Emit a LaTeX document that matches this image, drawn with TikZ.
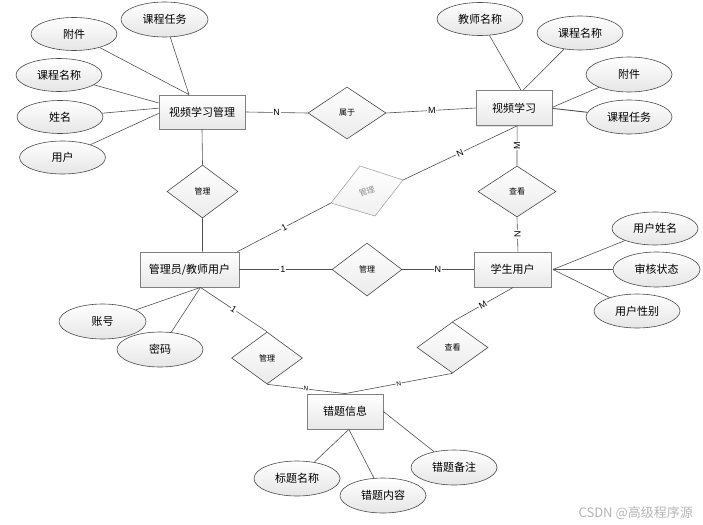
\documentclass[tikz,border=0pt]{standalone}
\usepackage{fontspec}
\setmainfont{Liberation Sans}
\newfontfamily\cjk{Noto Sans CJK SC}
\usetikzlibrary{shapes.geometric,calc,shadows}
\definecolor{linec}{HTML}{505050}
\definecolor{boxc}{HTML}{808080}
\definecolor{ellc}{HTML}{4A4A4A}
\definecolor{wmc}{HTML}{B4B4B4}
\begin{document}
\begin{tikzpicture}[x=1pt,y=-1pt,
  conn/.style={draw=linec, line width=0.6pt},
  ent/.style={rectangle, draw=boxc, line width=0.8pt, top color=white, bottom color=black!9,
    inner sep=0pt, font=\cjk\fontsize{11}{11}\selectfont,
    drop shadow={shadow xshift=1.2pt, shadow yshift=-1.2pt, opacity=0.25}},
  attr/.style={ellipse, draw=ellc, line width=0.6pt, top color=white, bottom color=black!10,
    minimum width=86pt, minimum height=33pt, inner sep=0pt, font=\cjk\fontsize{11}{11}\selectfont},
  rel/.style={diamond, draw=ellc, line width=0.6pt, top color=white, bottom color=black!8,
    inner sep=0pt, font=\cjk\fontsize{8}{8}\selectfont},
  card/.style={fill=white, inner sep=0.8pt, font=\fontsize{9}{9}\selectfont, text=black},
  cardsm/.style={fill=white, inner sep=0.5pt, font=\fontsize{6.5}{6.5}\selectfont, text=black}
]
\useasboundingbox (0,0) rectangle (703,524);

% ---------- entities ----------
\node[ent, minimum width=86pt, minimum height=34pt] (vm) at (202,112) {视频学习管理};
\node[ent, minimum width=76pt, minimum height=35pt] (vs) at (514,108) {视频学习};
\node[ent, minimum width=99pt, minimum height=35pt] (adm) at (189.5,269.5) {管理员/教师用户};
\node[ent, minimum width=77pt, minimum height=35pt] (stu) at (512.5,269.5) {学生用户};
\node[ent, minimum width=76pt, minimum height=35pt] (err) at (345,411.5) {错题信息};

% ---------- relationships ----------
\node[rel, minimum width=78pt, minimum height=52pt] (r1) at (347,113) {属于};
\node[rel, minimum width=71pt, minimum height=53pt] (r2) at (202.5,191.5) {管理};
\node[rel, minimum width=78pt, minimum height=51pt] (r3) at (517,191.5) {查看};
\node[rel, minimum width=70pt, minimum height=53pt] (r4) at (367,269.5) {管理};
\node[rel, minimum width=71pt, minimum height=52pt] (r5) at (267,358) {管理};
\node[rel, minimum width=71pt, minimum height=51pt] (r6) at (452.5,347.5) {查看};

% skewed grey relationship
\coordinate (gl) at (331,203);
\coordinate (gt) at (360,166);
\coordinate (gr) at (403,180);
\coordinate (gb) at (375,216);
\path[draw=black!35, line width=0.6pt, top color=white, bottom color=black!6] (gl) -- (gt) -- (gr) -- (gb) -- cycle;
\node[rotate=19, text=black!45, font=\cjk\fontsize{8}{8}\selectfont, inner sep=0pt] (g) at (367,191.5) {管理};

% ---------- attributes ----------
\node[attr] (a1) at (74,34) {附件};
\node[attr, minimum width=87pt, minimum height=35pt] (a2) at (164.5,19.5) {课程任务};
\node[attr] (a3) at (59,75) {课程名称};
\node[attr] (a4) at (60,117) {姓名};
\node[attr] (a5) at (62.5,157.5) {用户};

\node[attr] (b1) at (480,19) {教师名称};
\node[attr, minimum height=34pt] (b2) at (580,33) {课程名称};
\node[attr, minimum height=35pt] (b3) at (629,74.5) {附件};
\node[attr, minimum height=34pt] (b4) at (629,117) {课程任务};

\node[attr] (c1) at (655,228.5) {用户姓名};
\node[attr, minimum width=87pt, minimum height=35pt] (c2) at (656.5,269.5) {审核状态};
\node[attr, minimum height=34pt] (c3) at (637,311) {用户性别};

\node[attr, minimum width=87pt, minimum height=35pt] (d1) at (102.5,321.5) {账号};
\node[attr, minimum height=35pt] (d2) at (160,349.5) {密码};

\node[attr, minimum height=35pt] (e1) at (297,478.5) {标题名称};
\node[attr, minimum height=35pt] (e2) at (383,495.5) {错题内容};
\node[attr, minimum height=35pt] (e3) at (454,467.5) {错题备注};

% ---------- anchor points on entity borders ----------
\coordinate (vmT) at ($(vm.north west)!0.35!(vm.north east)$);
\coordinate (vmL1) at ($(vm.north west)!0.24!(vm.south west)$);
\coordinate (vmL2) at ($(vm.north west)!0.39!(vm.south west)$);
\coordinate (vmL3) at ($(vm.north west)!0.54!(vm.south west)$);
\coordinate (vsT1) at ($(vs.north west)!0.59!(vs.north east)$);
\coordinate (vsT2) at ($(vs.north west)!0.62!(vs.north east)$);
\coordinate (vsR1) at ($(vs.north east)!0.48!(vs.south east)$);
\coordinate (vsR2) at ($(vs.north east)!0.51!(vs.south east)$);
\coordinate (vsB) at ($(vs.south west)!0.54!(vs.south east)$);
\coordinate (admT) at ($(adm.north west)!0.63!(adm.north east)$);
\coordinate (admTR) at ($(adm.north west)!0.98!(adm.north east)$);
\coordinate (admB) at ($(adm.south west)!0.61!(adm.south east)$);
\coordinate (stuT) at ($(stu.north west)!0.57!(stu.north east)$);
\coordinate (stuB) at ($(stu.south west)!0.51!(stu.south east)$);
\coordinate (stuR) at ($(stu.east)+(1.5,0)$);
\coordinate (errB) at ($(err.south west)!0.55!(err.south east)$);

% ---------- attribute connectors ----------
\draw[conn] (a1) -- (vmT);
\draw[conn] (a2) -- (vmT);
\draw[conn] (a3) -- (vmL1);
\draw[conn] (a4) -- (vmL2);
\draw[conn] (a5) -- (vmL3);

\draw[conn] (b1) -- (vsT1);
\draw[conn] (b2) -- (vsT2);
\draw[conn] (b3) -- (vsR1);
\draw[conn, line width=0.9pt] (b4) -- (vsR2);

\draw[conn] (c1) -- (stuR);
\draw[conn] (c2) -- (stuR);
\draw[conn] (c3) -- (stuR);

\draw[conn] (d1) -- (admB);
\draw[conn] (d2) -- (admB);

\draw[conn] (e1) -- (errB);
\draw[conn] (e2) -- (errB);
\draw[conn] (e3) -- (err.east);

% ---------- relationship connectors ----------
\draw[conn] (vm.east) -- node[card, pos=0.5] {N} (r1.west);
\draw[conn] (r1.east) -- node[card, pos=0.51] {M} (vs.west);

\draw[conn] (vm.south) -- (r2.north);
\draw[conn] (r2.south) -- (admT);

\draw[conn] (vsB) -- node[card, pos=0.5, rotate=90] {M} (r3.north);
\draw[conn] (r3.south) -- node[card, pos=0.5, rotate=90] {N} (stuT);

\draw[conn] (vsB) -- node[card, pos=0.5, sloped] {N} (gr);
\draw[conn] (admTR) -- node[card, pos=0.5, sloped] {1} (gl);

\draw[conn] (adm.east) -- node[card, pos=0.47] {1} (r4.west);
\draw[conn] (r4.east) -- node[card, pos=0.5] {N} (stu.west);

\draw[conn] (admB) -- node[card, pos=0.5, sloped] {1} (r5.north);
\draw[conn] (r5.south) -- node[cardsm, pos=0.5, sloped] {N} (err.north);

\draw[conn] (stuB) -- node[card, pos=0.5, sloped] {M} (r6.north);
\draw[conn] (r6.south) -- node[cardsm, pos=0.5, sloped] {N} (err.north);

% ---------- watermark ----------
\node[anchor=base east, text=wmc, font=\cjk\fontsize{13}{13}\selectfont, inner sep=0pt] (wm) at (693,517) {CSDN @高级程序源};
\end{tikzpicture}
\end{document}
